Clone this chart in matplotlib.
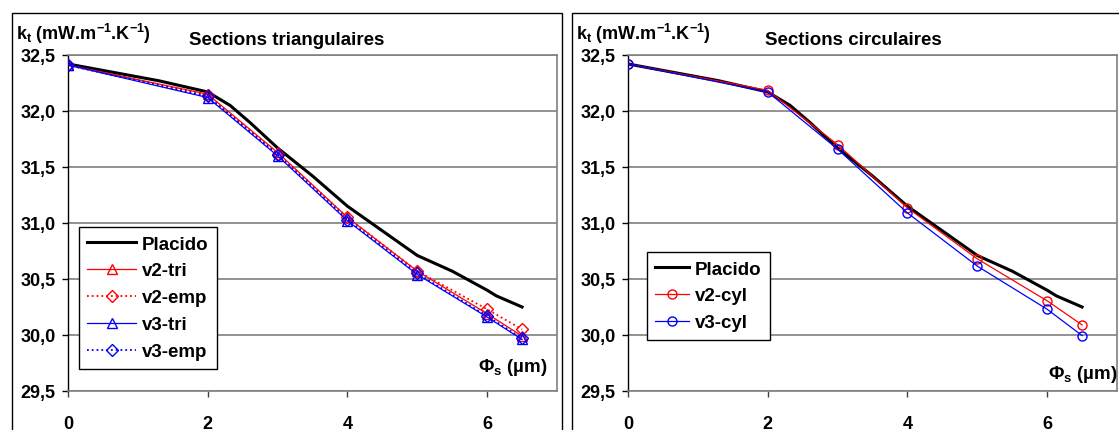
import matplotlib
matplotlib.use('Agg')
import matplotlib.pyplot as plt
from matplotlib.patches import Rectangle
from matplotlib.ticker import FuncFormatter

plt.rcParams['font.family'] = ['Liberation Sans', 'DejaVu Sans']
plt.rcParams['font.weight'] = 'bold'
plt.rcParams['mathtext.fontset'] = 'custom'
plt.rcParams['mathtext.rm'] = 'Liberation Sans:bold'
plt.rcParams['mathtext.bf'] = 'Liberation Sans:bold'
plt.rcParams['mathtext.it'] = 'Liberation Sans:bold'
plt.rcParams['mathtext.default'] = 'bf'

# ---- data ----
x_placido = [0, 1.3, 2, 2.32, 2.6, 3, 3.5, 4, 4.5, 5, 5.5, 6, 6.13, 6.5]
placido = [32.42, 32.27, 32.17, 32.05, 31.90, 31.67, 31.42, 31.15, 30.93, 30.71, 30.57, 30.40, 30.35, 30.25]

x_pts = [0, 2, 3, 4, 5, 6, 6.5]
v2_tri = [32.41, 32.15, 31.63, 31.05, 30.57, 30.19, 29.99]
v2_emp = [32.41, 32.14, 31.62, 31.05, 30.57, 30.23, 30.05]
v3_tri = [32.41, 32.12, 31.60, 31.02, 30.54, 30.16, 29.96]
v3_emp = [32.41, 32.13, 31.61, 31.03, 30.55, 30.17, 29.97]

v2_cyl = [32.42, 32.185, 31.70, 31.135, 30.68, 30.305, 30.09]
v3_cyl = [32.42, 32.17, 31.66, 31.09, 30.615, 30.23, 29.995]

x_ticks = [0, 2, 4, 6]
y_ticks = [29.5, 30.0, 30.5, 31.0, 31.5, 32.0, 32.5]

W, H = 1119, 431
fig = plt.figure(figsize=(W / 100, H / 100), dpi=100)

def fx(px):
    return px / W

def fy(py):
    return 1 - py / H

# chart-area frames
fig.patches.append(Rectangle((fx(12), fy(440)), fx(562 - 12), (440 - 14) / H,
                             transform=fig.transFigure, fill=False, ec='black', lw=1.0))
fig.patches.append(Rectangle((fx(572), fy(440)), fx(1130 - 572), (440 - 14) / H,
                             transform=fig.transFigure, fill=False, ec='black', lw=1.0))

fmt = FuncFormatter(lambda v, p: f"{v:.1f}".replace('.', ','))
FS = 13


def setup(ax):
    ax.set_xlim(0, 7)
    ax.set_ylim(29.5, 32.5)
    ax.set_xticks(x_ticks)
    ax.set_yticks(y_ticks)
    ax.yaxis.set_major_formatter(fmt)
    ax.grid(axis='y', color='#808080', lw=1.2)
    ax.set_axisbelow(True)
    for s in ['top', 'right', 'bottom']:
        ax.spines[s].set_color('#808080')
        ax.spines[s].set_linewidth(1.2)
    ax.spines['left'].set_color('black')
    ax.spines['left'].set_linewidth(1.0)
    ax.tick_params(axis='x', length=4, width=1, color='#404040', pad=13, labelsize=FS)
    ax.tick_params(axis='y', length=4, width=1, color='black', pad=5, labelsize=FS)
    for lab in ax.get_xticklabels() + ax.get_yticklabels():
        lab.set_fontweight('bold')


axL = fig.add_axes([fx(68), fy(392), fx(557 - 68), (392 - 56) / H])
axR = fig.add_axes([fx(628), fy(392), fx(1117 - 628), (392 - 56) / H])
setup(axL)
setup(axR)

# left panel
axL.plot(x_placido, placido, color='black', lw=2.2, label='Placido', zorder=3)
axL.plot(x_pts, v2_tri, color='red', lw=0.9, ls='-', marker='^', ms=7.5,
         mfc='none', mec='red', mew=1.0, label='v2-tri', zorder=4)
axL.plot(x_pts, v2_emp, color='red', lw=1.3, ls=':', marker='D', ms=6,
         mfc='none', mec='red', mew=1.0, label='v2-emp', zorder=4)
axL.plot(x_pts, v3_tri, color='blue', lw=0.9, ls='-', marker='^', ms=7.5,
         mfc='none', mec='blue', mew=1.0, label='v3-tri', zorder=5)
axL.plot(x_pts, v3_emp, color='blue', lw=1.3, ls=':', marker='D', ms=6,
         mfc='none', mec='blue', mew=1.0, label='v3-emp', zorder=5)

# right panel
axR.plot(x_placido, placido, color='black', lw=2.2, label='Placido', zorder=3)
axR.plot(x_pts, v2_cyl, color='red', lw=0.9, marker='o', ms=6.5,
         mfc='none', mec='red', mew=1.0, label='v2-cyl', zorder=4)
axR.plot(x_pts, v3_cyl, color='blue', lw=0.9, marker='o', ms=6.5,
         mfc='none', mec='blue', mew=1.0, label='v3-cyl', zorder=5)

legkw = dict(loc='upper left', bbox_transform=fig.transFigure, borderaxespad=0,
             fancybox=False, shadow=False, framealpha=1, edgecolor='black',
             prop={'weight': 'bold', 'size': 13.5},
             handletextpad=0.3, borderpad=0.45, labelspacing=0.52)
lgL = axL.legend(bbox_to_anchor=(fx(79), fy(228)), handlelength=2.6, **legkw)
lgR = axR.legend(bbox_to_anchor=(fx(647), fy(253)), handlelength=1.8, **legkw)
for lg in (lgL, lgR):
    lg.get_frame().set_linewidth(1.0)

# texts
TFS = 13.5
ylab = r"k$_{t}$ (mW.m$^{-1}$.K$^{-1}$)"
fig.text(fx(16), fy(39.5), ylab, fontsize=13, fontweight='bold', ha='left', va='baseline')
fig.text(fx(576), fy(39.5), ylab, fontsize=13, fontweight='bold', ha='left', va='baseline')
fig.text(fx(287), fy(45), 'Sections triangulaires', fontsize=TFS, fontweight='bold',
         ha='center', va='baseline')
fig.text(fx(853), fy(45), 'Sections circulaires', fontsize=TFS, fontweight='bold',
         ha='center', va='baseline')
xlab = r"Φ$_{s}$ (µm)"
fig.text(fx(548), fy(368), xlab, fontsize=TFS, fontweight='bold', ha='right', va='center')
fig.text(fx(1118), fy(375), xlab, fontsize=TFS, fontweight='bold', ha='right', va='center')

fig.savefig('out.png', dpi=100)
